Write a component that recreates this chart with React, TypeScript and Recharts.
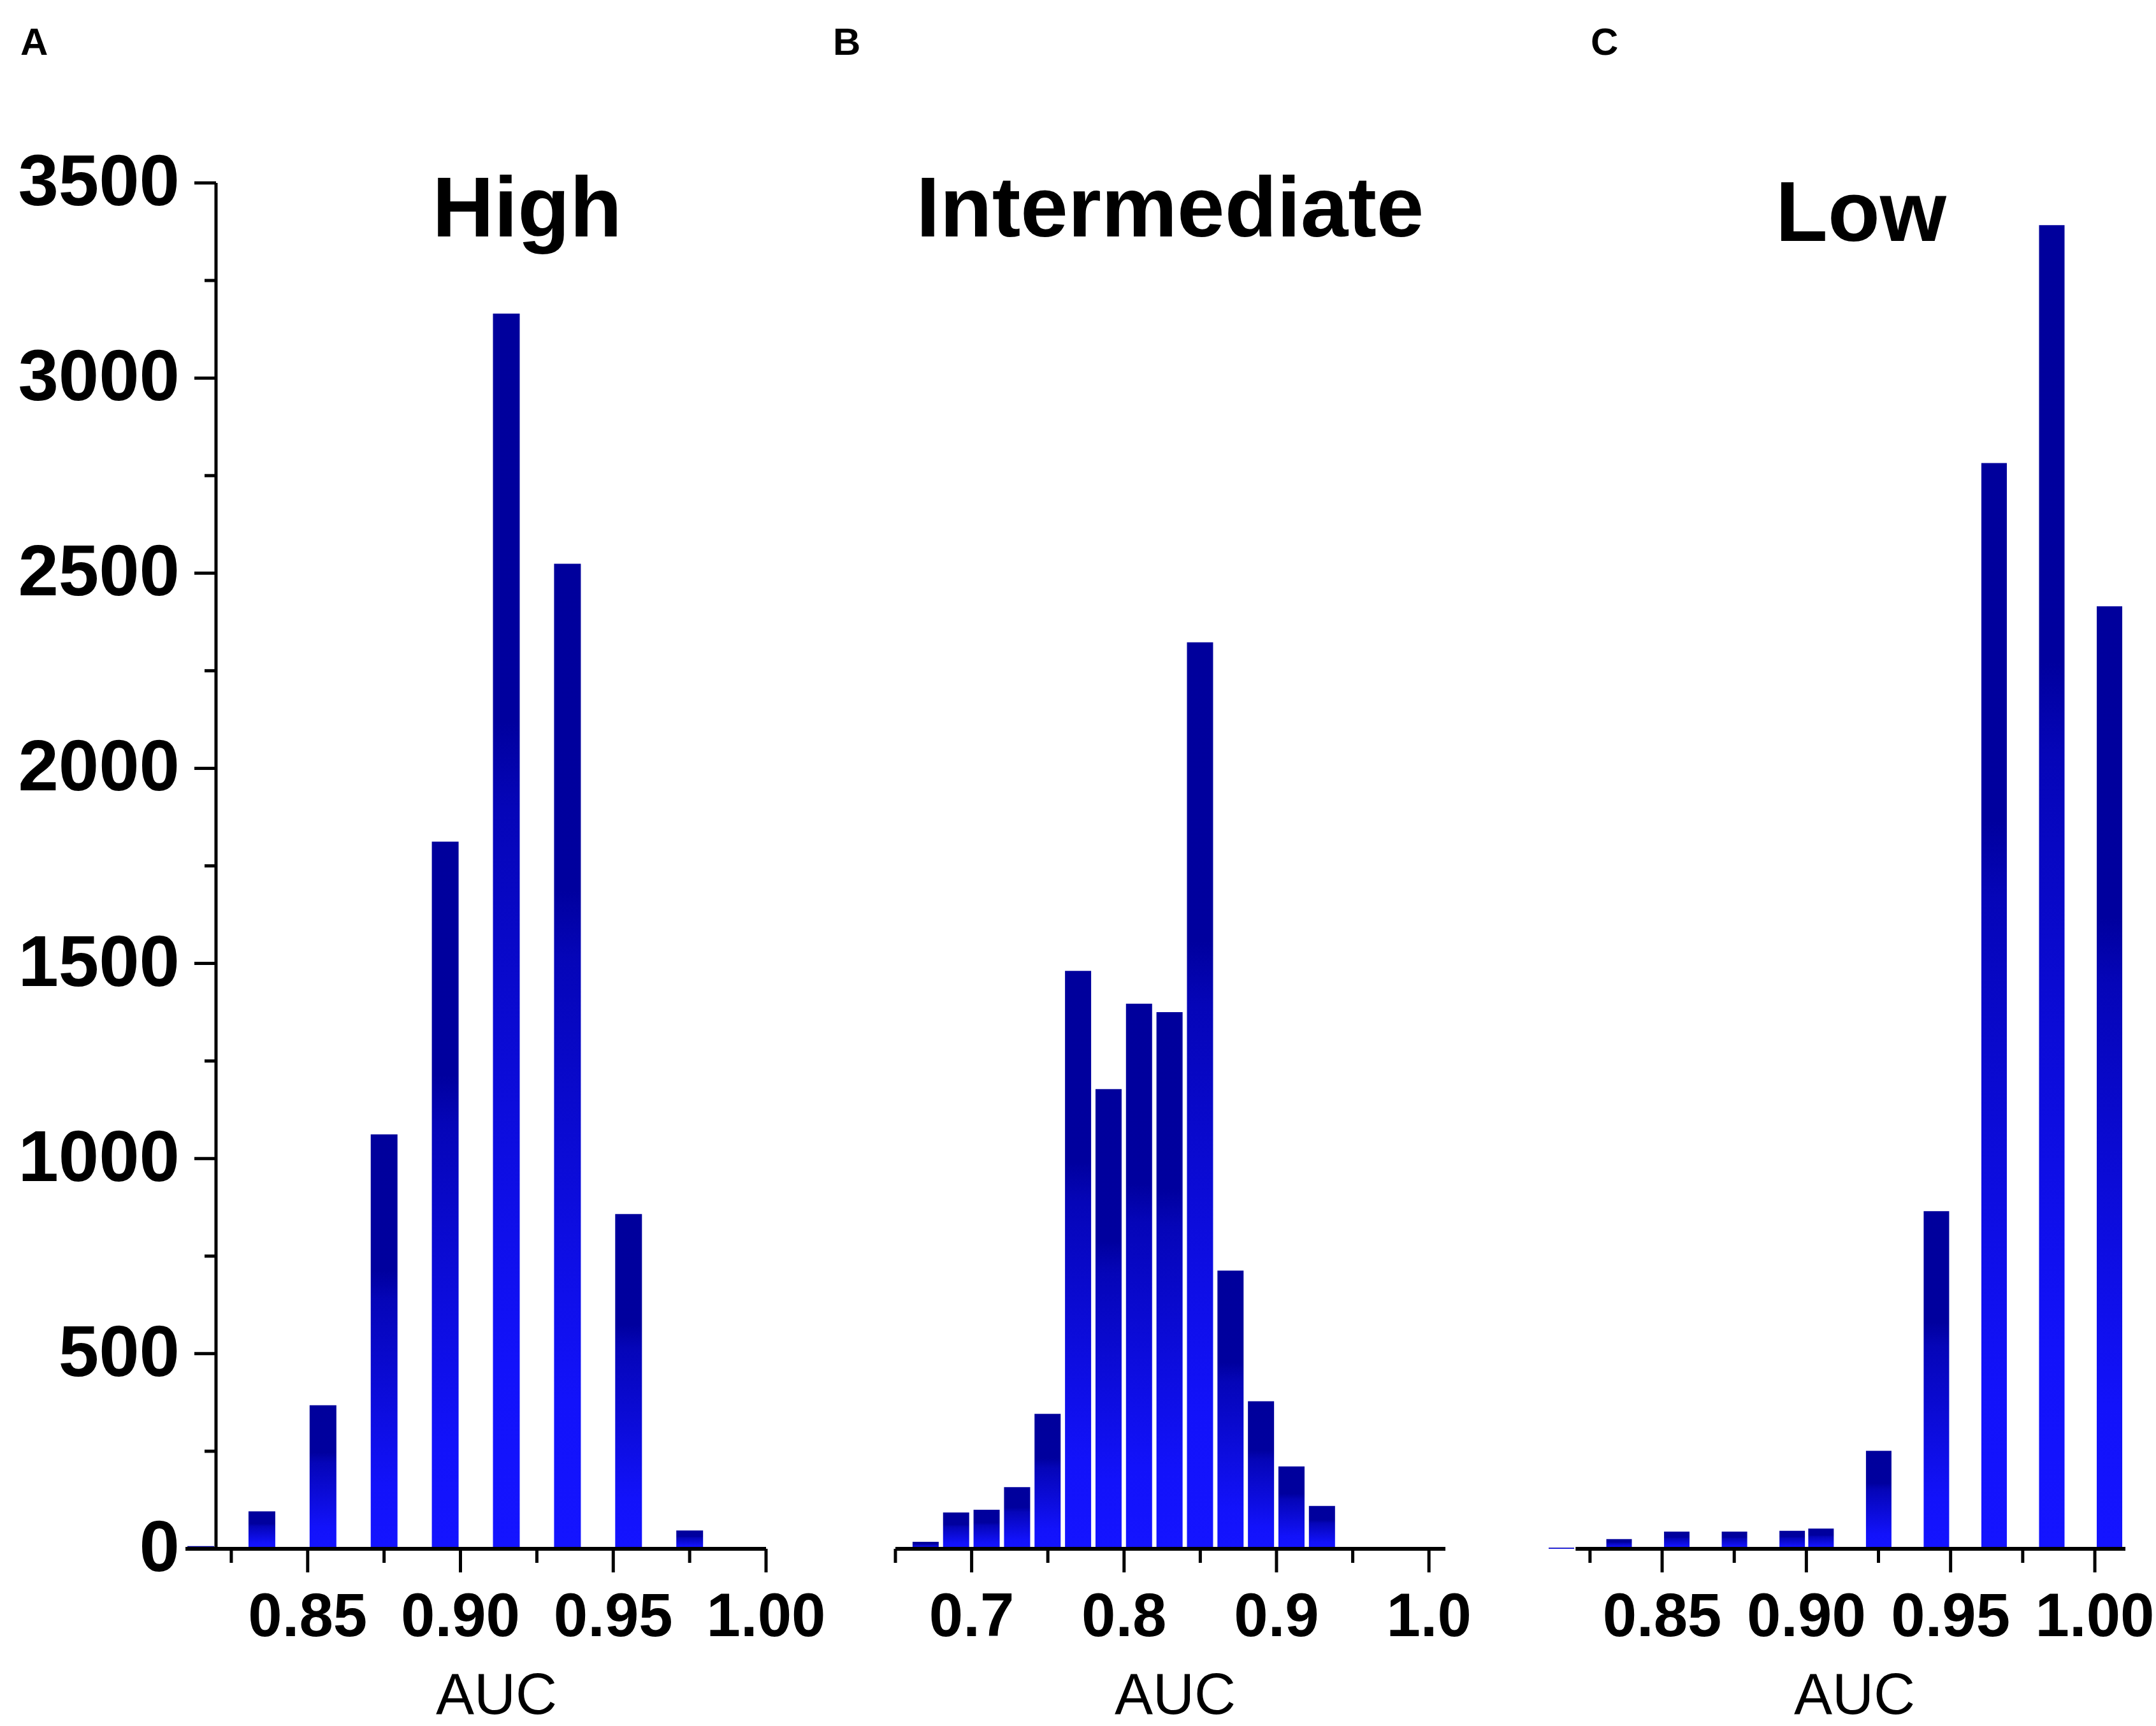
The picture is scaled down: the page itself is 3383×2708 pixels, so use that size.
import { Bar, BarChart, ReferenceLine, XAxis, YAxis } from "recharts";

// bin centres (AUC) and counts
const highAuc = [0.815, 0.835, 0.855, 0.875, 0.895, 0.915, 0.935, 0.955, 0.975];
const highCount = [7, 96, 368, 1062, 1812, 3165, 2524, 858, 47];

const interAuc = [0.67, 0.69, 0.71, 0.73, 0.75, 0.77, 0.79, 0.81, 0.83, 0.85, 0.87, 0.89, 0.91, 0.93];
const interCount = [18, 93, 100, 158, 346, 1481, 1178, 1397, 1375, 2323, 713, 378, 211, 110];

const lowAuc = [0.815, 0.835, 0.855, 0.875, 0.895, 0.905, 0.925, 0.945, 0.965, 0.985, 1.005];
const lowCount = [3, 25, 44, 44, 46, 52, 251, 865, 2782, 3392, 2415];

const yTicks = [0, 250, 500, 750, 1000, 1250, 1500, 1750, 2000, 2250, 2500, 2750, 3000, 3250, 3500];
const yLabels = ["0", "", "500", "", "1000", "", "1500", "", "2000", "", "2500", "", "3000", "", "3500"];

const fineTicks = [0.825, 0.85, 0.875, 0.9, 0.925, 0.95, 0.975, 1.0];
const fineLabels = ["", "0.85", "", "0.90", "", "0.95", "", "1.00"];
const wideTicks = [0.65, 0.7, 0.75, 0.8, 0.85, 0.9, 0.95, 1.0];
const wideLabels = ["", "0.7", "", "0.8", "", "0.9", "", "1.0"];

const titles = ["High", "Intermediate", "Low"];
const panelLetters = ["A", "B", "C"];

const FONT = "'Liberation Sans', Arial, Helvetica, sans-serif";
const PAGE_W = 3383;
const PAGE_H = 2708;
const TOP_Y = 287;
const ZERO_Y = 2430;
const X_AXIS_H = 200;

const toRows = (auc: number[], count: number[]) => auc.map((a, i) => ({ auc: a, count: count[i] }));

function XTick(props: any) {
  const { x, payload, ticks, labels } = props;
  const i = ticks.findIndex((t: number) => Math.abs(t - payload.value) < 1e-6);
  const label = i >= 0 ? labels[i] : "";
  const major = label !== "";
  return (
    <g>
      <line x1={x} x2={x} y1={ZERO_Y} y2={ZERO_Y + (major ? 37 : 22)} stroke="#000" strokeWidth={5} />
      {major && (
        <text x={x} y={2567} textAnchor="middle" fontFamily={FONT} fontWeight={700} fontSize={96} fill="#000">
          {label}
        </text>
      )}
    </g>
  );
}

function YTick(props: any) {
  const { y, payload, axisX } = props;
  const i = yTicks.indexOf(payload.value);
  const label = i >= 0 ? yLabels[i] : "";
  const major = label !== "";
  return (
    <g>
      <line x1={axisX - (major ? 34 : 18)} x2={axisX} y1={y} y2={y} stroke="#000" strokeWidth={5} />
      {major && (
        <text x={282} y={y + 35} textAnchor="end" fontFamily={FONT} fontWeight={700} fontSize={114} fill="#000">
          {label}
        </text>
      )}
    </g>
  );
}

function Gradient({ id }: { id: string }) {
  return (
    <defs>
      <linearGradient id={id} x1="0" y1="0" x2="0" y2="1">
        <stop offset="0" stopColor="#00009c" />
        <stop offset="0.33" stopColor="#00009e" />
        <stop offset="0.4" stopColor="#0505b8" />
        <stop offset="0.85" stopColor="#1212fa" />
        <stop offset="1" stopColor="#1414ff" />
      </linearGradient>
    </defs>
  );
}

interface PanelProps {
  id: string;
  left: number;
  width: number;
  plotLeft: number;
  plotRight: number;
  domain: [number, number];
  rows: { auc: number; count: number }[];
  ticks: number[];
  labels: string[];
  barSize: number;
  showY?: boolean;
  baseline?: [number, number];
}

function Panel(p: PanelProps) {
  const yAxisW = p.showY ? p.plotLeft - p.left : 0;
  const axisX = p.plotLeft + ((0.82 - p.domain[0]) / (p.domain[1] - p.domain[0])) * (p.plotRight - p.plotLeft);
  return (
    <div style={{ position: "absolute", left: p.left, top: 0 }}>
      <BarChart
        width={p.width}
        height={PAGE_H}
        data={p.rows}
        style={{ overflow: "visible" }}
        margin={{
          top: TOP_Y,
          bottom: PAGE_H - ZERO_Y - X_AXIS_H,
          left: p.showY ? 0 : p.plotLeft - p.left,
          right: p.left + p.width - p.plotRight,
        }}
      >
        <Gradient id={`grad-${p.id}`} />
        <XAxis
          dataKey="auc"
          type="number"
          domain={p.domain}
          ticks={p.ticks}
          interval={0}
          height={X_AXIS_H}
          axisLine={p.baseline ? false : { stroke: "#000", strokeWidth: 6 }}
          tickLine={false}
          tick={(t: any) => <XTick {...t} ticks={p.ticks} labels={p.labels} />}
        />
        <YAxis
          type="number"
          domain={[0, 3500]}
          ticks={yTicks}
          interval={0}
          hide={!p.showY}
          width={yAxisW}
          axisLine={false}
          tickLine={false}
          tick={(t: any) => <YTick {...t} axisX={axisX} />}
        />
        <Bar dataKey="count" fill={`url(#grad-${p.id})`} barSize={p.barSize} isAnimationActive={false} />
        {p.showY && (
          <ReferenceLine
            segment={[
              { x: 0.82, y: 0 },
              { x: 0.82, y: 3500 },
            ]}
            stroke="#000"
            strokeWidth={5}
          />
        )}
        {p.baseline && (
          <ReferenceLine
            segment={[
              { x: p.baseline[0], y: 0 },
              { x: p.baseline[1], y: 0 },
            ]}
            stroke="#000"
            strokeWidth={6}
          />
        )}
      </BarChart>
    </div>
  );
}

export default function App() {
  const titleX = [827, 1836, 2920];
  const titleY = [371, 371, 378];
  const letterX = [32, 1307, 2496];
  const aucX = [779, 1844, 2910];
  return (
    <div
      style={{
        position: "absolute",
        left: 0,
        top: 0,
        width: PAGE_W,
        height: PAGE_H,
        background: "#fff",
        overflow: "hidden",
      }}
    >
      <Panel
        id="high"
        left={0}
        width={1380}
        plotLeft={291}
        plotRight={1202}
        domain={[0.81, 1.0]}
        rows={toRows(highAuc, highCount)}
        ticks={fineTicks}
        labels={fineLabels}
        barSize={42}
        showY
      />
      <Panel
        id="inter"
        left={1300}
        width={1100}
        plotLeft={1405}
        plotRight={2268}
        domain={[0.65, 1.0108]}
        rows={toRows(interAuc, interCount)}
        ticks={wideTicks}
        labels={wideLabels}
        barSize={41}
      />
      <Panel
        id="low"
        left={2340}
        width={1043}
        plotLeft={2427}
        plotRight={3335}
        domain={[0.81, 1.0106]}
        rows={toRows(lowAuc, lowCount)}
        ticks={fineTicks}
        labels={fineLabels}
        barSize={40}
        baseline={[0.82, 1.0106]}
      />
      <svg
        width={PAGE_W}
        height={PAGE_H}
        style={{ position: "absolute", left: 0, top: 0, pointerEvents: "none" }}
      >
        {titles.map((t, i) => (
          <text key={t} x={titleX[i]} y={titleY[i]} textAnchor="middle" fontFamily={FONT} fontWeight={700} fontSize={134}>
            {t}
          </text>
        ))}
        {panelLetters.map((l, i) => (
          <text key={l} x={letterX[i]} y={86} fontFamily={FONT} fontWeight={700} fontSize={60}>
            {l}
          </text>
        ))}
        {aucX.map((x, i) => (
          <text key={i} x={x} y={2689} textAnchor="middle" fontFamily={FONT} fontSize={90}>
            AUC
          </text>
        ))}
      </svg>
    </div>
  );
}
